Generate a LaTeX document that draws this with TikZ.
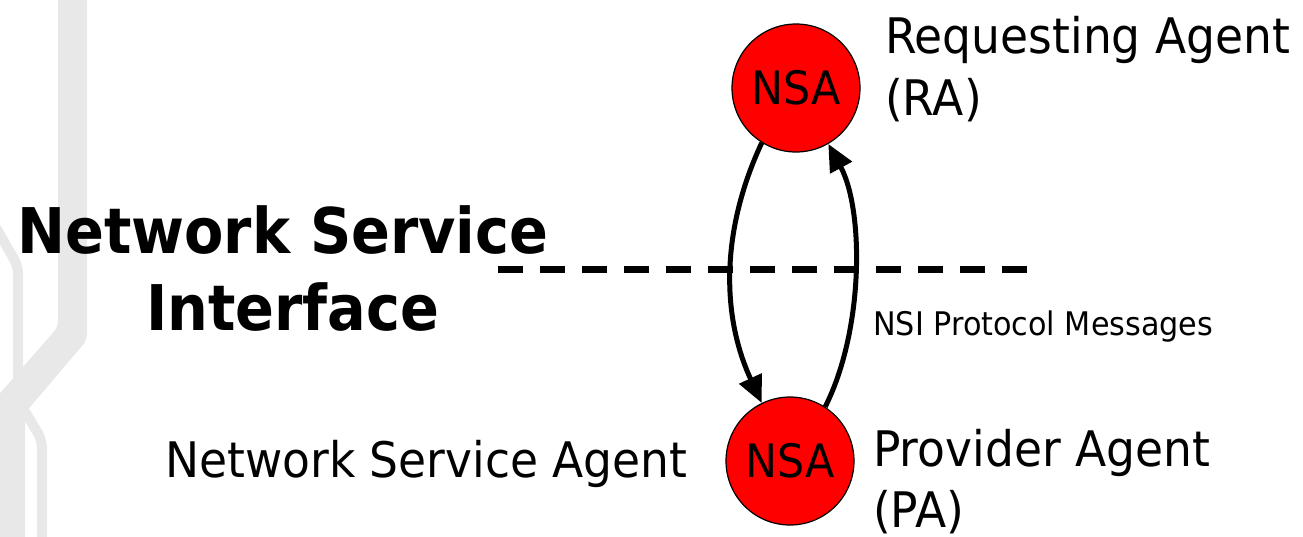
\documentclass[tikz,border=0pt]{standalone}
\usepackage{fontspec}
\setmainfont{DejaVu Sans}[FakeStretch=0.93]
\newfontfamily\titlefont{DejaVu Sans}[FakeStretch=0.91]
\usetikzlibrary{arrows.meta}
\definecolor{bandgrey}{HTML}{E8E8E8}
\definecolor{nsared}{HTML}{FF0000}
\begin{document}
\begin{tikzpicture}[x=1pt,y=-1pt,
  nsa/.style={circle,draw=black,line width=1.2pt,fill=nsared,minimum size=128pt,inner sep=0pt,
    font=\fontsize{46}{55}\selectfont},
  biglabel/.style={anchor=base west,inner sep=0pt,font=\fontsize{49}{59}\selectfont},
  smalllabel/.style={anchor=base west,inner sep=0pt,font=\fontsize{32.5}{39}\selectfont},
  titlelabel/.style={anchor=base west,inner sep=0pt,font=\titlefont\bfseries\fontsize{63}{75}\selectfont},
  msgarrow/.style={line width=5pt,-{Triangle[length=27pt,width=24pt]}},
  band/.style={bandgrey,line width=10pt,rounded corners=8pt}
]
\useasboundingbox (0,0) rectangle (1303,536);
% background decoration
\fill[bandgrey,rounded corners=6pt] (58,-5) -- (87,-5) -- (87,340) -- (25,413) -- (25,545) -- (-5,545) -- (-5,399) -- (58,327) -- cycle;
\draw[band] (-5,226) -- (18,266) -- (18,390);
\draw[band] (20,403) -- (42,440) -- (42,545);

% title
\node[titlelabel] (t1) at (17,253) {Network Service};
\node[titlelabel] (t2) at (146,330) {Interface};

% dashed interface line
\coordinate (dl) at (498,269.5);
\coordinate (dr) at (1027,269.5);
\draw[line width=7pt,dash pattern=on 24.5pt off 17.5pt] (dl) -- (dr);

% agents
\node[nsa] (ra) at (796,88) {NSA};
\node[nsa] (pa) at (790,461) {NSA};

% messages
\draw[msgarrow] (ra.-122) .. controls (721,230) and (721,315) .. (pa.116);
\draw[msgarrow] (pa.57) .. controls (864,330) and (864,210) .. (ra.-60);

% labels
\node[biglabel] (rl1) at (885,53) {Requesting Agent};
\node[biglabel] (rl2) at (885,115) {(RA)};
\node[smalllabel] (msg) at (873,335) {NSI Protocol Messages};
\node[biglabel] (pl1) at (873,466) {Provider Agent};
\node[biglabel] (pl2) at (873,527) {(PA)};
\node[biglabel] (nsal) at (165,477) {Network Service Agent};
\end{tikzpicture}
\end{document}
